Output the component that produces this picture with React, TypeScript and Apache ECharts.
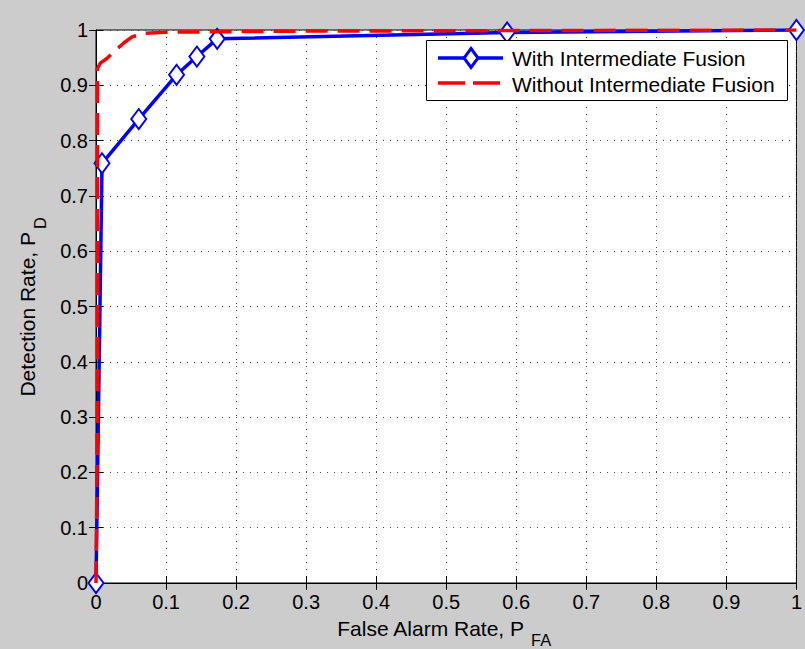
import React, { useEffect, useRef } from "react";
import * as echarts from "echarts";

// Data
const withFusionX = [0, 0.0086, 0.061, 0.115, 0.144, 0.173, 0.587, 1.0];
const withFusionY = [0, 0.759, 0.839, 0.919, 0.952, 0.984, 0.9955, 1.0];

const withoutFusionX = [0, 0.002, 0.002, 0.006, 0.015, 0.027, 0.04, 0.052, 0.07, 0.1, 0.3, 0.6, 1.0];
const withoutFusionY = [0, 0.3, 0.93, 0.94, 0.948, 0.962, 0.977, 0.988, 0.994, 0.996, 0.998, 0.999, 1.0];

const xTickLabels = ["0", "0.1", "0.2", "0.3", "0.4", "0.5", "0.6", "0.7", "0.8", "0.9", "1"];
const yTickLabels = ["0", "0.1", "0.2", "0.3", "0.4", "0.5", "0.6", "0.7", "0.8", "0.9", "1"];

const seriesNames = ["With Intermediate Fusion", "Without Intermediate Fusion"];

const FONT = "'Liberation Sans', Arial, Helvetica, sans-serif";

export default function App() {
  const ref = useRef<HTMLDivElement>(null);
  useEffect(() => {
    if (!ref.current) return;
    const chart = echarts.init(ref.current, null, { renderer: "svg" });
    const blueData = withFusionX.map((x, i) => [x, withFusionY[i]]);
    const redData = withoutFusionX.map((x, i) => [x, withoutFusionY[i]]);
    const labelFmt = (arr: string[]) => (v: number) => arr[Math.round(v * 10)] ?? "";

    const axisCommon = {
      type: "value" as const,
      min: 0,
      max: 1,
      interval: 0.1,
      axisLine: { show: true, lineStyle: { color: "#000", width: 1 } },
      axisTick: { show: true, inside: true, length: 7, lineStyle: { color: "#000", width: 1 } },
    };

    const option: any = {
      animation: false,
      backgroundColor: "#cccccc",
      textStyle: { fontFamily: FONT },
      grid: {
        left: 96,
        top: 30,
        width: 701,
        height: 553,
        show: true,
        backgroundColor: "#ffffff",
        borderColor: "#000",
        borderWidth: 1,
      },
      xAxis: [
        {
          ...axisCommon,
          position: "bottom",
          axisLabel: {
            show: true,
            margin: 9,
            fontSize: 20,
            color: "#000",
            fontFamily: FONT,
            formatter: labelFmt(xTickLabels),
          },
          splitLine: { show: true, lineStyle: { color: "#444", width: 1, type: [1, 6] } },
        },
        {
          ...axisCommon,
          position: "top",
          axisLabel: { show: false },
          splitLine: { show: false },
        },
      ],
      yAxis: [
        {
          ...axisCommon,
          position: "left",
          axisLabel: {
            show: true,
            margin: 8,
            fontSize: 20,
            color: "#000",
            fontFamily: FONT,
            formatter: labelFmt(yTickLabels),
          },
          splitLine: { show: true, lineStyle: { color: "#444", width: 1, type: [1, 6] } },
        },
        {
          ...axisCommon,
          position: "right",
          axisLabel: { show: false },
          splitLine: { show: false },
        },
      ],
      series: [
        {
          name: seriesNames[0],
          type: "line",
          data: blueData,
          xAxisIndex: 0,
          yAxisIndex: 0,
          lineStyle: { color: "#0000ff", width: 3.5 },
          symbol: "emptyDiamond",
          symbolSize: [15, 20],
          showAllSymbol: true,
          itemStyle: { color: "#0000ff", borderColor: "#0000ff", borderWidth: 3 },
          z: 2,
        },
        {
          name: seriesNames[1],
          type: "line",
          data: redData,
          xAxisIndex: 0,
          yAxisIndex: 0,
          showSymbol: false,
          symbol: "none",
          lineStyle: { color: "#ff0000", width: 3.5, type: [22, 10], cap: "butt" },
          itemStyle: { color: "#ff0000" },
          z: 3,
        },
      ],
      graphic: [
        // Legend box
        {
          type: "rect",
          shape: { x: 426.5, y: 40.5, width: 361, height: 60 },
          style: { fill: "#fff", stroke: "#000", lineWidth: 1 },
          z: 100,
        },
        {
          type: "line",
          shape: { x1: 438, y1: 58, x2: 503, y2: 58 },
          style: { stroke: "#0000ff", lineWidth: 3.5 },
          z: 101,
        },
        {
          type: "polygon",
          shape: { points: [[471, 48.5], [478, 58], [471, 67.5], [464, 58]] },
          style: { fill: "#fff", stroke: "#0000ff", lineWidth: 3 },
          z: 102,
        },
        {
          type: "line",
          shape: { x1: 438, y1: 83, x2: 503, y2: 83 },
          style: { stroke: "#ff0000", lineWidth: 3.5, lineDash: [27, 8] },
          z: 101,
        },
        {
          type: "text",
          x: 512,
          y: 58,
          style: {
            text: seriesNames[0],
            fontSize: 21,
            fontFamily: FONT,
            fill: "#000",
            textAlign: "left",
            textVerticalAlign: "middle",
          },
          z: 101,
        },
        {
          type: "text",
          x: 512,
          y: 84,
          style: {
            text: seriesNames[1],
            fontSize: 21,
            fontFamily: FONT,
            fill: "#000",
            textAlign: "left",
            textVerticalAlign: "middle",
          },
          z: 101,
        },
        // X axis title
        {
          type: "text",
          x: 524,
          y: 628,
          style: {
            text: "False Alarm Rate, P",
            fontSize: 21,
            fontFamily: FONT,
            fill: "#000",
            textAlign: "right",
            textVerticalAlign: "middle",
          },
        },
        {
          type: "text",
          x: 531,
          y: 640,
          style: {
            text: "FA",
            fontSize: 16.5,
            fontFamily: FONT,
            fill: "#000",
            textAlign: "left",
            textVerticalAlign: "middle",
          },
        },
        // Y axis title
        {
          type: "group",
          x: 27,
          y: 232,
          rotation: Math.PI / 2,
          children: [
            {
              type: "text",
              x: 0,
              y: 0,
              style: {
                text: "Detection Rate, P",
                fontSize: 21,
                fontFamily: FONT,
                fill: "#000",
                textAlign: "right",
                textVerticalAlign: "middle",
              },
            },
            {
              type: "text",
              x: 3,
              y: 13,
              style: {
                text: "D",
                fontSize: 16.5,
                fontFamily: FONT,
                fill: "#000",
                textAlign: "left",
                textVerticalAlign: "middle",
              },
            },
          ],
        },
      ],
    };
    chart.setOption(option);
    return () => chart.dispose();
  }, []);
  return (
    <div
      ref={ref}
      style={{ position: "fixed", left: 0, top: 0, width: 805, height: 649 }}
    />
  );
}
